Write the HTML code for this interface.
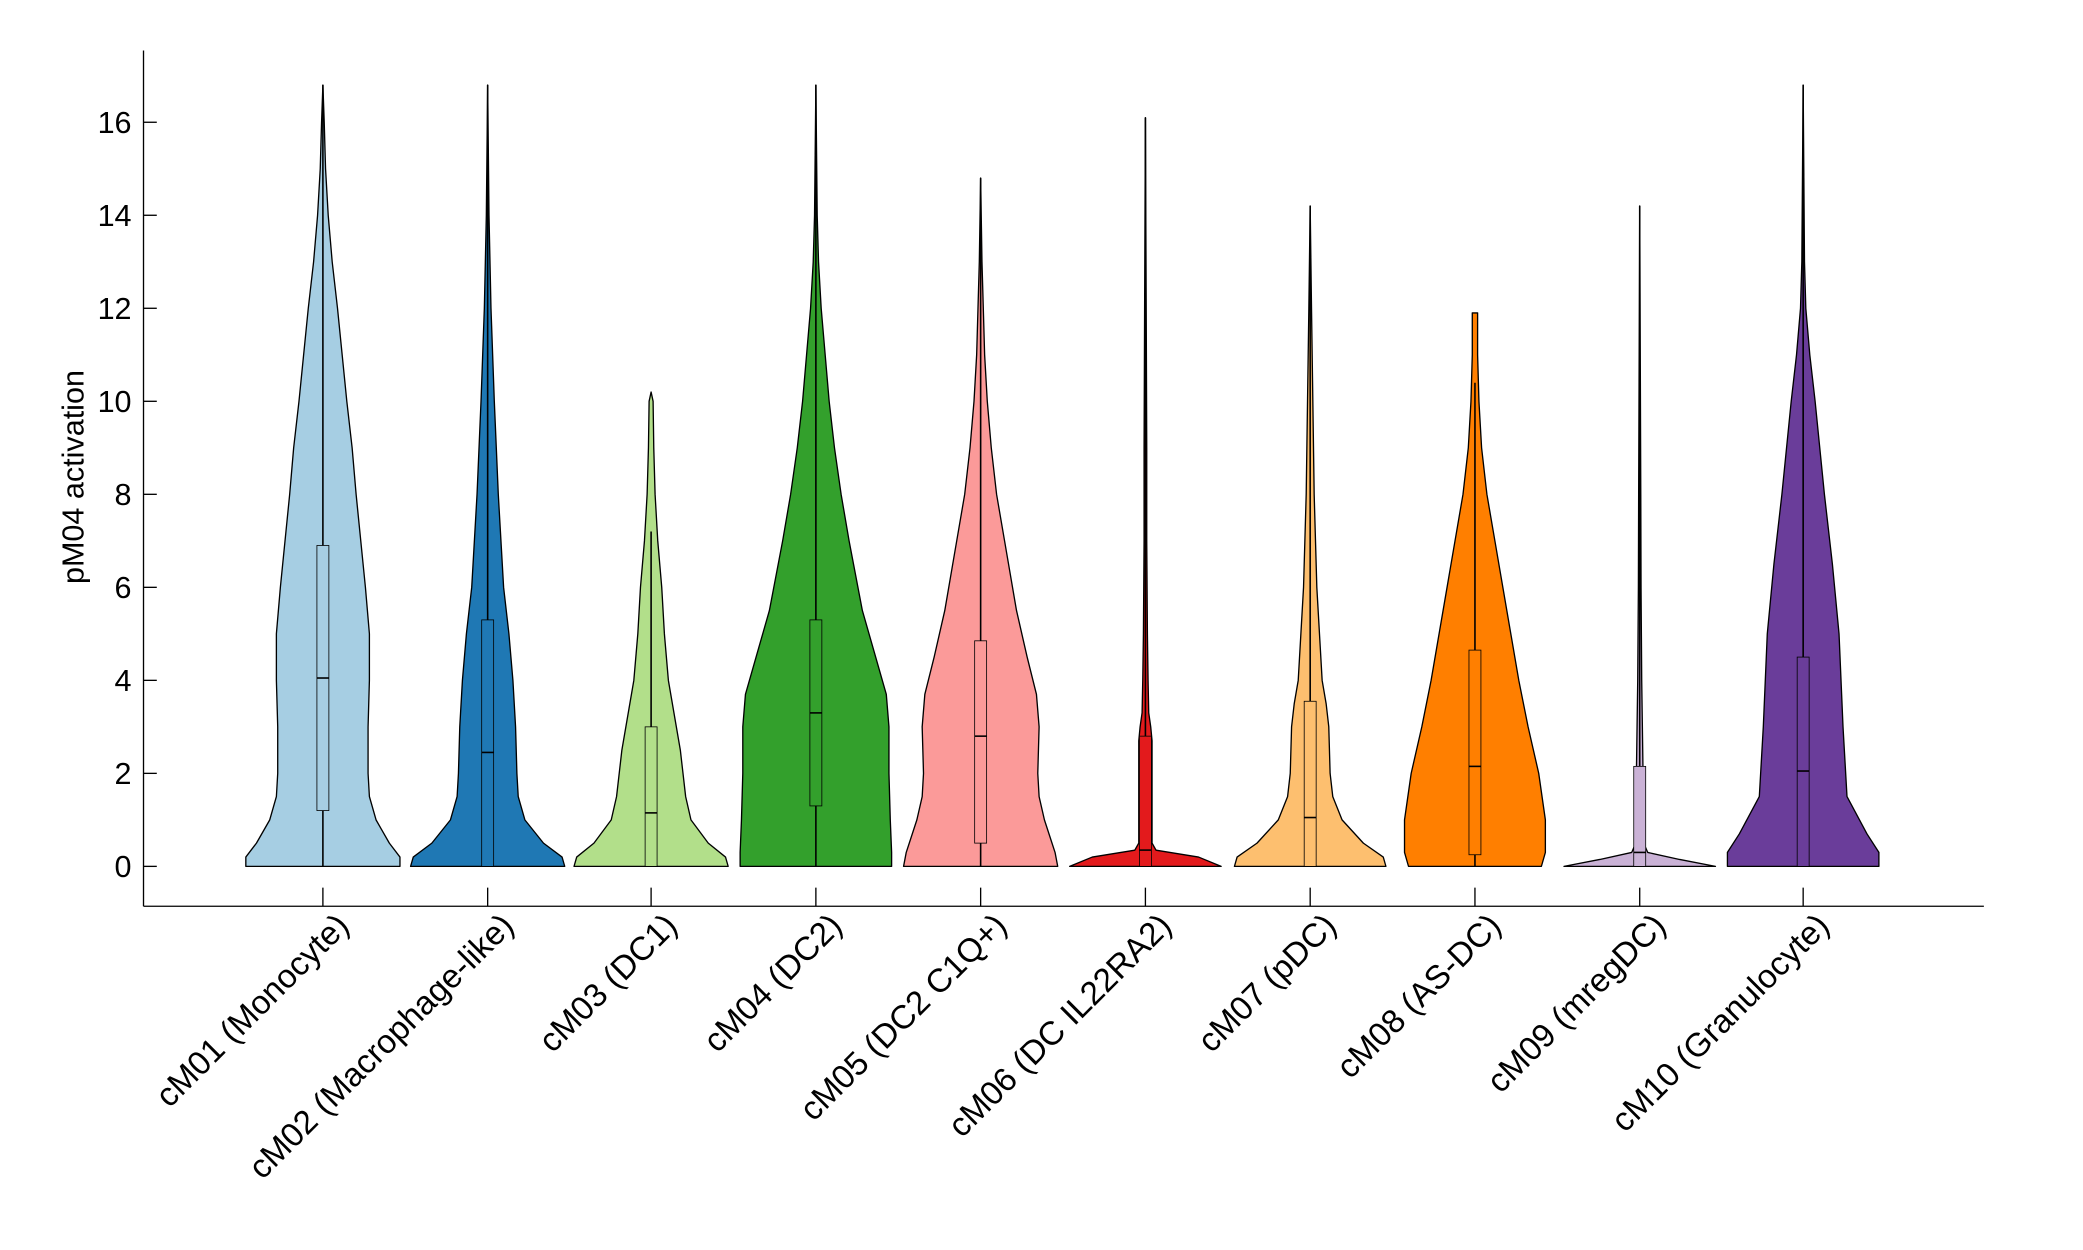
<!DOCTYPE html>
<html><head><meta charset="utf-8"><style>
html,body{margin:0;padding:0;background:#fff;}
svg{display:block;}
text{font-family:"Liberation Sans",Arial,sans-serif;fill:#000;}
</style></head><body>
<svg id="s" width="2083" height="1250" viewBox="0 0 1567.6 940.7" xmlns="http://www.w3.org/2000/svg">
<g id="v"></g>
<g stroke="#000" stroke-width="1" fill="none">
<line x1="108" y1="38" x2="108" y2="682"/>
<line x1="108" y1="682" x2="1493" y2="682"/>
<line x1="108" y1="652" x2="118" y2="652"/>
<line x1="108" y1="582" x2="118" y2="582"/>
<line x1="108" y1="512" x2="118" y2="512"/>
<line x1="108" y1="442" x2="118" y2="442"/>
<line x1="108" y1="372" x2="118" y2="372"/>
<line x1="108" y1="302" x2="118" y2="302"/>
<line x1="108" y1="232" x2="118" y2="232"/>
<line x1="108" y1="162" x2="118" y2="162"/>
<line x1="108" y1="92" x2="118" y2="92"/>
<line x1="243" y1="668" x2="243" y2="682"/>
<line x1="367" y1="668" x2="367" y2="682"/>
<line x1="490" y1="668" x2="490" y2="682"/>
<line x1="614" y1="668" x2="614" y2="682"/>
<line x1="738" y1="668" x2="738" y2="682"/>
<line x1="862" y1="668" x2="862" y2="682"/>
<line x1="986" y1="668" x2="986" y2="682"/>
<line x1="1110" y1="668" x2="1110" y2="682"/>
<line x1="1234" y1="668" x2="1234" y2="682"/>
<line x1="1357" y1="668" x2="1357" y2="682"/>
</g>
<g font-size="23" text-anchor="end">
<text x="99" y="660">0</text>
<text x="99" y="590">2</text>
<text x="99" y="520">4</text>
<text x="99" y="450">6</text>
<text x="99" y="380">8</text>
<text x="99" y="310">10</text>
<text x="99" y="240">12</text>
<text x="99" y="170">14</text>
<text x="99" y="100">16</text>
</g>
<text font-size="23" text-anchor="middle" transform="translate(63,359) rotate(-90)">pM04 activation</text>
<g font-size="25" text-anchor="end">
<text transform="translate(264,698) rotate(-45)">cM01 (Monocyte)</text>
<text transform="translate(388,698) rotate(-45)">cM02 (Macrophage-like)</text>
<text transform="translate(511,698) rotate(-45)">cM03 (DC1)</text>
<text transform="translate(635,698) rotate(-45)">cM04 (DC2)</text>
<text transform="translate(759,698) rotate(-45)">cM05 (DC2 C1Q+)</text>
<text transform="translate(883,698) rotate(-45)">cM06 (DC IL22RA2)</text>
<text transform="translate(1007,698) rotate(-45)">cM07 (pDC)</text>
<text transform="translate(1131,698) rotate(-45)">cM08 (AS-DC)</text>
<text transform="translate(1255,698) rotate(-45)">cM09 (mregDC)</text>
<text transform="translate(1378,698) rotate(-45)">cM10 (Granulocyte)</text>
</g>
</svg>
<script>
var Y=function(v){return 652-35*v;};
var D=[
[243,'#a6cee3',[[0,58],[0.2,58],[0.5,50],[1,40],[1.5,35],[2,34],[3,34],[4,35],[5,35],[6,32],[8,25],[9,22],[10,18],[12,11],[13,7],[14,4],[15,2],[16,1],[16.8,0]],1.2,6.9,4.05,16.8,4.5],
[367,'#1f78b4',[[0,58],[0.2,56],[0.5,42],[1,28],[1.5,23],[2,22],[3,21],[4,19],[5,16],[6,12],[8,8],[10,5],[12,2.5],[14,1],[16.8,0]],0,5.3,2.45,16.8,4.5],
[490,'#b2df8a',[[0,58],[0.2,56],[0.5,43],[1,30],[1.5,26],[2,24],[2.5,22],[3,19],[4,13],[5,10],[5.5,9],[6,8],[7,5],[8,3],[9,2],[10,1.5],[10.2,0]],0,3.0,1.15,7.2,4.5],
[614,'#33a02c',[[0,57],[0.3,57],[1,56],[2,55],[3,55],[3.7,53],[4.5,45],[5.5,35],[7,25],[8,19],[9,14],[10,10],[11,7],[12,4],[13,2],[14,1],[16.8,0]],1.3,5.3,3.3,16.8,4.5],
[738,'#fb9a99',[[0,58],[0.3,56],[1,48],[1.5,44],[2,43],[3,44],[3.7,42],[4.5,35],[5.5,27],[7,18],[8,12],[9,8],[10,5],[11,3],[12,2],[13,1],[14.8,0]],0.5,4.85,2.8,14.8,4.5],
[862,'#e31a1c',[[0,57],[0.2,40],[0.35,8],[0.5,5],[1,5],[2,5],[2.7,5],[3,4],[3.3,2.5],[4,2],[5,1.5],[7,1],[9,1],[12,0.6],[16.1,0]],0,2.8,0.35,16.1,4.5],
[986,'#fdbf6f',[[0,57],[0.2,55],[0.5,40],[1,24],[1.5,17],[2,15],[3,14],[3.5,12],[4,9],[5,7],[6,5],[8,3],[10,2],[12,1],[14.2,0]],0,3.55,1.05,14.2,4.5],
[1110,'#ff7f00',[[0,50],[0.3,53],[1,53],[2,48],[3,40],[4,33],[5,27],[6,21],[7,15],[8,9],[9,5],[10,3],[11,2],[11.9,2],[11.9,0]],0.25,4.65,2.15,10.4,4.5],
[1234,'#cab2d6',[[0,57],[0.15,30],[0.3,6],[0.5,3],[1,3],[2,2.5],[3,2],[4,1.5],[6,1],[8,0.8],[14.2,0]],0,2.15,0.3,14.2,4.5],
[1357,'#6a3d9a',[[0,57],[0.3,57],[0.7,48],[1.5,33],[3,30],[5,27],[6.5,22],[8,16],[10,9],[11,5],[12,2],[13,1],[16.8,0]],0,4.5,2.05,16.8,4.5]
];
var h='';
D.forEach(function(d){
 var c=d[0],p=d[2],L=[],R=[];
 p.forEach(function(q){R.push((c+q[1]).toFixed(1)+','+Y(q[0]).toFixed(1));});
 for(var i=p.length-1;i>=0;i--)L.push((c-p[i][1]).toFixed(1)+','+Y(p[i][0]).toFixed(1));
 h+='<polygon points="'+R.join(' ')+' '+L.join(' ')+'" fill="'+d[1]+'" stroke="#000" stroke-width="1" stroke-linejoin="round"/>';
 h+='<line x1="'+c+'" y1="652" x2="'+c+'" y2="'+Y(d[6])+'" stroke="#000" stroke-width="1.2"/>';
 var w=d[7];
 h+='<rect x="'+(c-w)+'" y="'+Y(d[4])+'" width="'+(2*w)+'" height="'+(Y(d[3])-Y(d[4]))+'" fill="'+d[1]+'" stroke="#000" stroke-width="0.6"/>';
 h+='<line x1="'+(c-w)+'" y1="'+Y(d[5])+'" x2="'+(c+w)+'" y2="'+Y(d[5])+'" stroke="#000" stroke-width="1.2"/>';
});
document.getElementById('v').innerHTML=h;
</script>
</body></html>
